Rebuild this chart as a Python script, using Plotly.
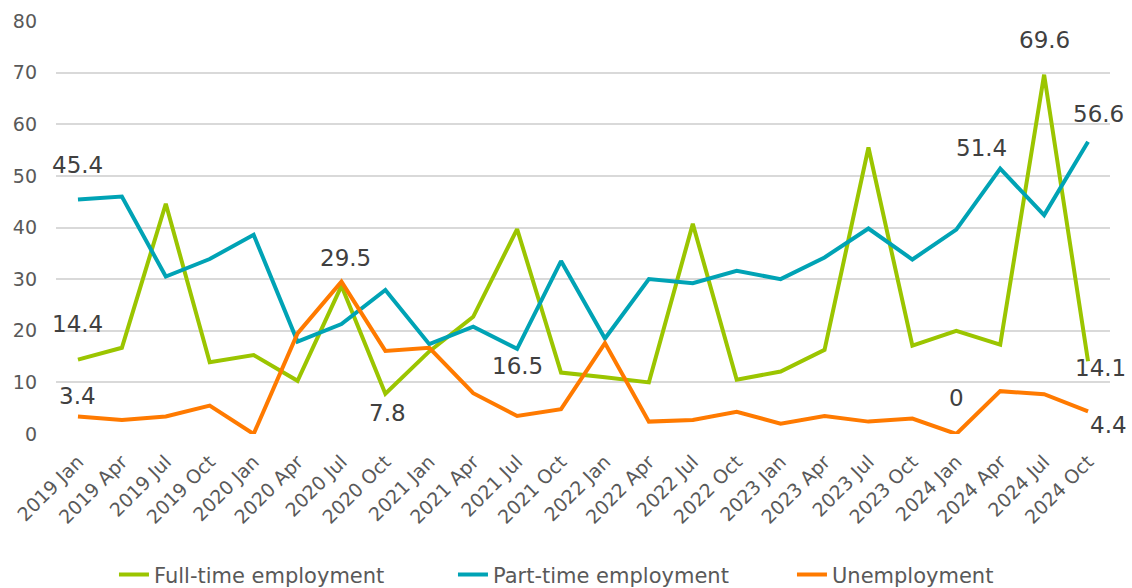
import plotly.graph_objects as go

categories = ["2019 Jan", "2019 Apr", "2019 Jul", "2019 Oct",
              "2020 Jan", "2020 Apr", "2020 Jul", "2020 Oct",
              "2021 Jan", "2021 Apr", "2021 Jul", "2021 Oct",
              "2022 Jan", "2022 Apr", "2022 Jul", "2022 Oct",
              "2023 Jan", "2023 Apr", "2023 Jul", "2023 Oct",
              "2024 Jan", "2024 Apr", "2024 Jul", "2024 Oct"]

full_time = [14.4, 16.7, 44.6, 13.9, 15.3, 10.3, 28.7, 7.8,
             16.0, 22.7, 39.7, 11.9, 11.0, 10.0, 40.7, 10.5,
             12.1, 16.3, 55.5, 17.1, 20.0, 17.3, 69.6, 14.1]

part_time = [45.4, 46.0, 30.5, 33.9, 38.6, 17.9, 21.3, 27.9,
             17.4, 20.8, 16.5, 33.5, 18.5, 30.0, 29.2, 31.6,
             30.0, 34.2, 39.8, 33.8, 39.6, 51.4, 42.4, 56.6]

unemployment = [3.4, 2.7, 3.4, 5.5, 0.0, 19.5, 29.5, 16.1,
                16.7, 7.9, 3.5, 4.8, 17.6, 2.4, 2.7, 4.3,
                2.0, 3.5, 2.4, 3.0, 0.0, 8.3, 7.7, 4.4]

series_names = ["Full-time employment", "Part-time employment", "Unemployment"]
series_colors = ["#9BC500", "#00A3B5", "#FF7A00"]
series_values = [full_time, part_time, unemployment]

# (series index, point index, xshift px, yshift px)
labels = [
    (0, 0, 0, 36), (0, 7, 2, -19), (0, 22, 0, 35), (0, 23, 12, -7),
    (1, 0, 0, 35), (1, 10, 0, -17), (1, 21, -19, 21), (1, 23, 10, 28),
    (2, 0, 0, 20), (2, 6, 4, 24), (2, 20, 0, 36), (2, 23, 20, -14),
]

FONT = "DejaVu Sans, Arial, sans-serif"

fig = go.Figure()
for name, color, vals in zip(series_names, series_colors, series_values):
    fig.add_trace(go.Scatter(x=categories, y=vals, name=name, mode="lines",
                             line=dict(color=color, width=4),
                             hoverinfo="skip"))

for s, i, dx, dy in labels:
    v = series_values[s][i]
    txt = f"{v:g}"
    fig.add_annotation(x=categories[i], y=v, text=txt, showarrow=False,
                       xshift=dx, yshift=dy,
                       font=dict(size=23, color="#404040", family=FONT))

fig.update_layout(
    width=1132, height=588,
    margin=dict(l=56, r=22, t=21, b=154, autoexpand=False),
    plot_bgcolor="white", paper_bgcolor="white",
    font=dict(family=FONT, color="#595959", size=19),
    showlegend=True,
    legend=dict(orientation="h", x=0.055, xanchor="left", y=-0.341, yanchor="middle",
                font=dict(size=21, color="#595959", family=FONT), itemwidth=30,
                entrywidth=294, entrywidthmode="pixels"),
)
fig.update_xaxes(type="category", range=[-0.5, 23.5], tickangle=-45,
                 showgrid=False, showline=False, ticks="", automargin=False,
                 ticklabelstandoff=12,
                 tickfont=dict(size=19, color="#595959", family=FONT))
fig.update_yaxes(range=[0, 80], dtick=10, showgrid=True, gridcolor="#D9D9D9",
                 gridwidth=1.5, zeroline=False, showline=False, ticks="",
                 automargin=False, ticklabelstandoff=18,
                 tickfont=dict(size=19, color="#595959", family=FONT))

fig.write_html("out.html", config={"displayModeBar": False},
               post_script="document.body.style.margin='0';")
